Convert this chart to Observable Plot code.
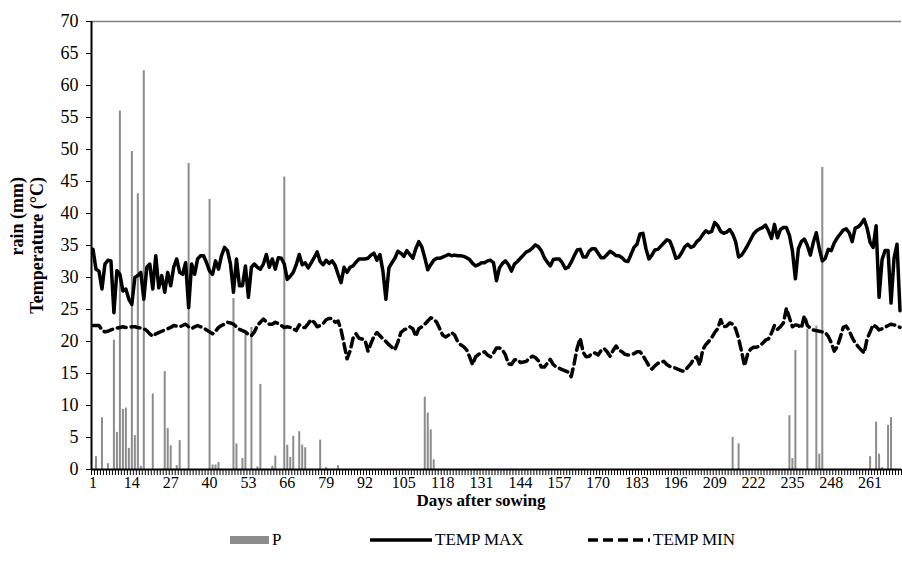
<!DOCTYPE html>
<html>
<head>
<meta charset="utf-8">
<script src="https://cdn.jsdelivr.net/npm/d3@7"></script>
<script src="https://cdn.jsdelivr.net/npm/@observablehq/plot@0.6"></script>
<style>
  html, body { margin: 0; padding: 0; background: #fff; }
  #wrap { position: relative; width: 902px; height: 575px; background: #fff; font-family: "Liberation Serif", "Times New Roman", serif; color: #000; }
  .leg { position: absolute; top: 529px; height: 22px; display: flex; align-items: center; font-size: 17px; }
  .leg svg { display: block; margin-right: 3px; }
</style>
</head>
<body>
<div id="wrap">
  <div id="chart"></div>
  <div class="leg" style="left:230px"><svg width="39" height="10"><rect x="0" y="1" width="39" height="8" fill="#8c8c8c"></rect></svg><span>P</span></div>
  <div class="leg" style="left:370px"><svg width="62" height="10"><line x1="0" x2="62" y1="5" y2="5" stroke="#000" stroke-width="3.5"></line></svg><span>TEMP MAX</span></div>
  <div class="leg" style="left:588px"><svg width="62" height="10"><line x1="0" x2="62" y1="5" y2="5" stroke="#000" stroke-width="3.5" stroke-dasharray="10,5"></line></svg><span>TEMP MIN</span></div>
</div>
<script>
// ---- data ----
const tempMax = [
  34.4, 31.3, 31.0, 28.2, 32.1, 32.7, 32.6, 24.5, 31.1, 30.5,
  27.9, 28.2, 26.6, 25.8, 30.0, 30.3, 30.8, 26.6, 31.6, 32.1,
  28.2, 33.4, 28.4, 30.3, 27.7, 30.8, 28.7, 31.6, 32.9, 30.8,
  30.5, 32.3, 25.3, 32.1, 30.5, 32.9, 33.4, 33.4, 32.3, 31.0,
  30.5, 32.6, 31.3, 33.4, 34.7, 34.2, 32.1, 27.7, 32.9, 28.7,
  28.7, 31.8, 26.9, 31.6, 32.1, 31.6, 31.3, 32.1, 33.6, 31.6,
  32.9, 31.3, 33.1, 33.0, 32.1, 29.7, 30.2, 30.8, 32.0, 33.6,
  32.0, 32.3, 31.5, 32.3, 33.1, 34.0, 32.5, 32.0, 32.7, 32.2,
  32.6, 31.9, 30.5, 29.2, 31.6, 30.8, 31.6, 31.8, 32.4, 32.9,
  32.9, 32.9, 33.0, 33.5, 33.8, 32.7, 33.6, 31.0, 26.6, 31.5,
  32.3, 33.0, 34.1, 33.8, 33.3, 34.2, 33.6, 33.0, 34.5, 35.6,
  34.8, 33.1, 31.2, 32.0, 32.7, 33.0, 33.0, 33.2, 33.4, 33.6,
  33.4, 33.5, 33.4, 33.4, 33.3, 33.1, 32.8, 32.2, 31.8, 32.0,
  32.3, 32.3, 32.6, 32.7, 32.3, 29.5, 31.5, 32.2, 32.6, 32.0,
  31.0, 32.1, 32.5, 33.0, 33.5, 34.0, 34.2, 34.6, 35.1, 34.8,
  34.2, 33.1, 32.4, 31.8, 32.8, 32.9, 32.9, 32.3, 31.4, 31.6,
  32.4, 33.4, 34.3, 34.4, 33.2, 33.2, 34.1, 34.5, 34.5, 33.8,
  33.1, 33.1, 33.6, 34.1, 33.8, 33.4, 33.4, 33.1, 32.6, 32.5,
  33.6, 34.7, 35.2, 36.8, 36.9, 34.5, 32.9, 33.5, 34.3, 34.4,
  34.9, 35.4, 35.9, 35.7, 34.5, 33.0, 33.2, 33.9, 34.8, 35.2,
  34.7, 34.9, 35.6, 36.0, 36.7, 37.3, 37.0, 37.2, 38.6, 38.1,
  37.2, 36.9, 37.1, 37.5, 36.8, 35.6, 33.2, 33.5, 34.2, 35.0,
  35.9, 36.8, 37.3, 37.6, 37.8, 38.2, 37.3, 36.1, 38.3, 36.2,
  37.5, 37.8, 37.8, 36.6, 34.2, 29.8, 34.5, 35.6, 36.0, 35.0,
  33.5, 35.5, 37.0, 34.5, 32.6, 33.0, 34.4, 34.2, 35.4, 36.2,
  36.8, 37.4, 37.6, 37.0, 35.6, 37.7, 37.9, 38.4, 39.1, 37.7,
  35.5, 34.7, 38.1, 26.9, 32.8, 34.2, 34.2, 26.0, 33.0, 35.2, 24.8
];
const tempMin = [
  22.5, 22.5, 22.5, 21.8, 21.5, 21.6, 21.8, 22.0, 22.1, 22.2,
  22.3, 22.2, 22.2, 22.3, 22.3, 22.2, 22.1, 22.0, 21.7, 21.2,
  20.8, 21.2, 21.4, 21.6, 21.8, 22.0, 22.2, 22.5, 22.4, 22.3,
  22.5, 22.7, 22.3, 22.0, 22.3, 22.5, 22.3, 22.1, 21.8, 21.5,
  21.2, 21.6, 22.2, 22.5, 22.7, 23.0, 22.9, 22.7, 22.3, 21.9,
  21.7, 21.5, 21.1, 20.9, 21.5, 22.5, 23.0, 23.5, 23.1, 22.7,
  22.7, 23.0, 22.8, 22.5, 22.2, 22.3, 22.2, 22.0, 21.7, 22.6,
  22.2, 22.2, 22.8, 23.4, 23.0, 22.3, 22.5, 22.8, 23.4, 23.6,
  23.6, 23.0, 23.2, 21.8, 19.6, 17.3, 18.5, 20.5, 21.2, 20.5,
  20.4, 20.2, 18.5, 19.7, 20.8, 21.4, 20.9, 20.4, 20.0, 19.5,
  19.1, 18.7, 19.9, 21.4, 21.8, 22.0, 22.3, 22.0, 20.8, 22.0,
  22.3, 22.7, 23.2, 23.7, 23.5, 23.0, 22.0, 21.0, 20.7, 21.0,
  21.4, 21.0, 20.0, 19.5, 19.2, 18.7, 17.6, 16.4, 17.6, 18.0,
  18.2, 18.4, 17.9, 17.6, 18.2, 19.0, 19.0, 18.7, 17.9, 16.5,
  16.4, 17.1, 17.2, 16.7, 16.8, 16.9, 17.4, 17.7, 17.5, 17.0,
  16.0, 16.0, 16.6, 17.2, 16.4, 16.0, 15.8, 15.6, 15.4, 15.2,
  14.5, 16.6, 19.0, 20.5, 18.3, 17.6, 17.7, 18.2, 18.2, 17.9,
  18.6, 18.9, 18.4, 17.7, 18.6, 19.3, 18.6, 18.4, 18.0, 17.9,
  17.9, 18.1, 18.4, 18.4, 17.8, 17.0, 16.2, 15.7, 16.2, 16.6,
  16.7, 16.9, 16.4, 16.1, 16.0, 15.8, 15.6, 15.4, 15.4, 16.0,
  16.5, 17.3, 17.6, 16.3, 18.7, 19.5, 20.0, 20.6, 21.4, 22.0,
  23.4, 22.3, 22.4, 22.9, 22.7, 22.0, 20.5, 18.4, 16.2, 18.0,
  18.8, 19.1, 19.1, 19.3, 19.7, 20.2, 20.4, 21.3, 22.5, 21.9,
  22.3, 22.9, 25.2, 23.7, 22.3, 22.6, 22.5, 22.1, 24.0, 22.5,
  22.1, 21.8, 21.7, 21.6, 21.5, 21.4, 20.8, 19.8, 18.5, 19.2,
  20.6, 22.2, 22.4, 21.7, 20.6, 19.8, 19.2, 18.7, 18.2, 20.4,
  21.5, 22.6, 22.3, 21.8, 22.0, 22.2, 22.5, 22.7, 22.6, 22.4, 22.2
];
const rainDays = [2, 4, 6, 8, 9, 10, 11, 12, 13, 14, 15, 16, 17, 18, 21, 25, 26, 27, 29, 30,
  33, 40, 41, 42, 43, 48, 49, 51, 52, 54, 56, 57, 61, 62, 65, 66, 67, 68, 70, 71,
  72, 77, 79, 83, 112, 113, 114, 115, 215, 217, 234, 235, 236, 240, 243, 244, 245,
  261, 263, 264, 265, 267, 268];
const rainMm = [2.0, 8.1, 0.9, 20.2, 5.8, 56.0, 9.4, 9.6, 3.3, 49.7, 5.3, 43.1, 0.5, 62.3, 11.8, 15.3, 6.4, 3.7, 0.6, 4.5,
  47.8, 42.2, 0.7, 0.7, 1.1, 26.7, 4.0, 1.7, 21.3, 22.2, 0.4, 13.3, 0.5, 2.1, 45.7, 3.8, 1.9, 5.2, 5.9, 3.8,
  3.4, 4.6, 0.3, 0.6, 11.3, 8.8, 6.2, 1.5, 5.0, 4.0, 8.4, 1.7, 18.6, 21.9, 22.4, 2.4, 47.2,
  2.0, 7.4, 2.4, 0.3, 6.9, 8.1];
const xTickDays = [1, 14, 27, 40, 53, 66, 79, 92, 105, 118, 131, 144, 157, 170, 183, 196, 209, 222, 235, 248, 261];
const yTicks = [0, 5, 10, 15, 20, 25, 30, 35, 40, 45, 50, 55, 60, 65, 70];
const nDays = tempMax.length;

// ---- tables built from the arrays ----
const temps = tempMax.map((v, i) => ({day: i + 1, tmax: v, tmin: tempMin[i]}));
const rain = rainDays.map((d, i) => ({day: d, p: rainMm[i]}));
const dayEdges = d3.range(0, nDays + 1).map(d => d + 0.5);

const serif = "'Liberation Serif', 'Times New Roman', serif";

const chart = Plot.plot({
  width: 902,
  height: 510,
  marginLeft: 91,
  marginRight: 1,
  marginTop: 21,
  marginBottom: 41,
  x: {domain: [0.5, nDays + 0.5], axis: null},
  y: {domain: [0, 70], axis: null},
  style: {fontFamily: serif, color: "#000", background: "#fff", overflow: "visible"},
  marks: [
    Plot.ruleY([70], {stroke: "#808080", strokeWidth: 1.5}),
    Plot.ruleX(rain, {x: "day", y1: 0, y2: "p", stroke: "#8c8c8c", strokeWidth: 2}),
    Plot.line(temps, {x: "day", y: "tmin", stroke: "#000", strokeWidth: 3.5, strokeDasharray: "9,5", strokeLinejoin: "round"}),
    Plot.line(temps, {x: "day", y: "tmax", stroke: "#000", strokeWidth: 3.5, strokeLinejoin: "round"}),
    Plot.axisY({ticks: yTicks, tickSize: 5, tickPadding: 8, fontSize: 18, label: null, stroke: "#000"}),
    Plot.ruleX([0.5], {stroke: "#000", strokeWidth: 2}),
    Plot.axisX({ticks: dayEdges, tickSize: 6, tickFormat: () => "", label: null, stroke: "#000"}),
    Plot.axisX({ticks: xTickDays, tickSize: 0, tickPadding: 7, fontSize: 16, label: null}),
    Plot.ruleY([0], {stroke: "#000", strokeWidth: 2})
  ]
});
document.getElementById("chart").appendChild(chart);

// axis titles
const svg = d3.select(chart);
svg.append("text")
  .attr("x", 481).attr("y", 506)
  .attr("text-anchor", "middle")
  .attr("font-family", serif).attr("font-size", 17).attr("font-weight", "bold").attr("fill", "#000")
  .text("Days after sowing");
svg.append("text")
  .attr("transform", "translate(23,177) rotate(-90)")
  .attr("text-anchor", "end")
  .attr("font-family", serif).attr("font-size", 18).attr("font-weight", "bold").attr("fill", "#000")
  .text("rain (mm)");
svg.append("text")
  .attr("transform", "translate(43,177) rotate(-90)")
  .attr("text-anchor", "end")
  .attr("font-family", serif).attr("font-size", 18).attr("font-weight", "bold").attr("fill", "#000")
  .text("Temperature (°C)");
</script>
</body>
</html>
